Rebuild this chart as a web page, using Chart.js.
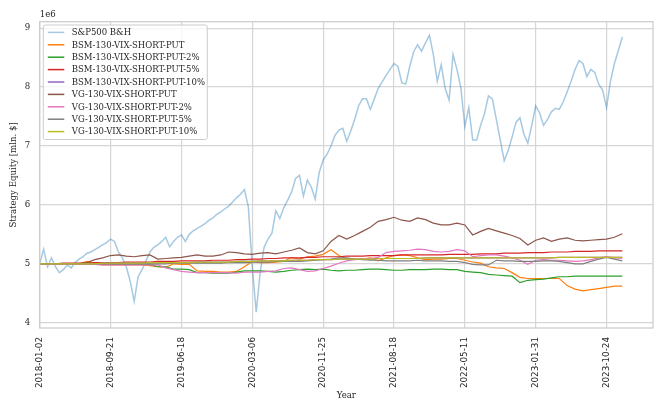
<!DOCTYPE html>
<html>
<head>
<meta charset="utf-8">
<script src="https://cdn.jsdelivr.net/npm/chart.js@4.4.1/dist/chart.umd.min.js"></script>
<style>
  html, body { margin: 0; padding: 0; background: #fff; }
  #wrap { width: 664px; height: 411px; }
</style>
</head>
<body>
<div id="wrap"><canvas id="c" width="664" height="411"></canvas></div>
<script>
// x tick labels, one per 180 trading days
const tickLabels = ['2018-01-02', '2018-09-21', '2019-06-18', '2020-03-06', '2020-11-25',
    '2021-08-18', '2022-05-11', '2023-01-31', '2023-10-24'];

// S&P500 buy & hold, every 10 trading days (mln $)
const spx = [5.00,5.25,4.95,5.10,4.95,4.85,4.90,4.98,4.93,5.02,
    5.08,5.12,5.18,5.20,5.24,5.28,5.32,5.36,5.42,5.38,
    5.20,5.10,4.95,4.70,4.36,4.78,4.90,5.05,5.20,5.28,
    5.32,5.38,5.45,5.29,5.38,5.45,5.49,5.38,5.50,5.56,
    5.60,5.64,5.68,5.74,5.78,5.84,5.88,5.93,5.98,6.05,
    6.12,6.18,6.26,5.97,4.95,4.18,4.85,5.28,5.42,5.52,
    5.90,5.77,5.95,6.08,6.22,6.45,6.50,6.15,6.42,6.30,
    6.10,6.55,6.76,6.86,7.00,7.18,7.27,7.30,7.08,7.25,
    7.45,7.68,7.80,7.80,7.62,7.80,7.98,8.09,8.20,8.30,
    8.40,8.35,8.07,8.05,8.35,8.60,8.72,8.61,8.75,8.88,
    8.55,8.10,8.38,7.98,7.78,8.55,8.30,7.98,7.33,7.65,
    7.10,7.10,7.35,7.55,7.85,7.80,7.45,7.10,6.75,6.92,
    7.15,7.40,7.48,7.20,7.05,7.35,7.68,7.56,7.35,7.45,
    7.58,7.64,7.62,7.75,7.92,8.10,8.30,8.45,8.40,8.18,
    8.30,8.25,8.05,7.95,7.65,8.10,8.40,8.62,8.85];

// strategies, every 20 trading days (mln $)
const bsmPut = [5.00,5.00,5.00,5.00,5.00,5.00,5.04,5.00,4.98,4.98,
    4.98,4.98,4.98,4.98,4.97,4.95,4.94,5.00,4.99,4.99,
    4.88,4.87,4.87,4.86,4.86,4.87,4.95,5.04,5.02,5.02,
    5.03,5.04,5.11,5.08,5.12,5.13,5.16,5.24,5.14,5.08,
    5.08,5.08,5.10,5.05,5.10,5.14,5.15,5.14,5.10,5.07,
    5.08,5.08,5.09,5.09,5.06,5.03,5.01,4.95,4.93,4.92,
    4.85,4.77,4.75,4.75,4.75,4.75,4.75,4.63,4.57,4.54,
    4.56,4.58,4.60,4.62,4.62];
const bsmPut2 = [5.00,5.00,5.00,5.00,5.00,5.00,5.00,5.00,5.00,5.00,
    4.99,4.99,4.99,4.99,4.99,4.95,4.95,4.91,4.91,4.90,
    4.85,4.85,4.84,4.84,4.84,4.86,4.88,4.88,4.88,4.87,
    4.86,4.87,4.89,4.90,4.91,4.90,4.91,4.89,4.88,4.89,
    4.89,4.90,4.91,4.91,4.90,4.89,4.89,4.90,4.90,4.90,
    4.91,4.91,4.90,4.90,4.87,4.86,4.85,4.82,4.81,4.80,
    4.79,4.68,4.72,4.73,4.74,4.76,4.78,4.78,4.79,4.79,
    4.79,4.79,4.79,4.79,4.79];
const bsmPut5 = [5.00,5.00,5.00,5.01,5.01,5.01,5.01,5.02,5.02,5.02,
    5.02,5.03,5.03,5.03,5.03,5.04,5.04,5.04,5.05,5.05,
    5.05,5.05,5.06,5.06,5.06,5.07,5.07,5.08,5.08,5.09,
    5.09,5.10,5.10,5.10,5.11,5.11,5.12,5.12,5.12,5.13,
    5.13,5.13,5.14,5.14,5.14,5.14,5.15,5.15,5.15,5.15,
    5.15,5.15,5.16,5.16,5.16,5.16,5.17,5.17,5.17,5.18,
    5.18,5.18,5.19,5.19,5.19,5.20,5.20,5.20,5.21,5.21,
    5.21,5.22,5.22,5.22,5.22];
const bsmPut10 = [5.00,5.00,5.00,5.00,5.00,5.00,5.00,5.00,5.01,5.01,
    5.01,5.01,5.01,5.01,5.02,5.02,5.02,5.02,5.02,5.02,
    5.03,5.03,5.03,5.03,5.03,5.04,5.04,5.04,5.05,5.05,
    5.05,5.05,5.06,5.06,5.06,5.07,5.07,5.07,5.08,5.08,
    5.08,5.08,5.08,5.09,5.09,5.09,5.09,5.09,5.09,5.10,
    5.10,5.10,5.10,5.10,5.10,5.10,5.10,5.10,5.10,5.10,
    5.10,5.10,5.10,5.10,5.10,5.10,5.11,5.11,5.11,5.11,
    5.11,5.11,5.11,5.11,5.11];
const vgPut = [5.00,5.00,5.00,5.00,5.00,5.00,5.02,5.07,5.10,5.14,
    5.15,5.13,5.12,5.14,5.15,5.08,5.09,5.10,5.11,5.13,
    5.15,5.13,5.13,5.15,5.20,5.19,5.17,5.16,5.18,5.19,
    5.17,5.20,5.23,5.27,5.19,5.17,5.22,5.38,5.48,5.42,
    5.48,5.55,5.62,5.72,5.75,5.79,5.74,5.72,5.78,5.75,
    5.69,5.66,5.66,5.69,5.66,5.49,5.55,5.60,5.56,5.52,
    5.48,5.43,5.32,5.40,5.44,5.38,5.42,5.44,5.40,5.39,
    5.40,5.41,5.42,5.45,5.51];
const vgPut2 = [5.00,4.99,4.99,4.99,4.99,4.99,4.99,4.99,4.98,4.98,
    4.98,4.98,4.98,4.98,4.98,4.98,4.93,4.90,4.87,4.86,
    4.85,4.85,4.85,4.85,4.85,4.84,4.86,4.86,4.86,4.87,
    4.88,4.92,4.93,4.90,4.87,4.88,4.92,4.96,5.01,5.05,
    5.07,5.08,5.09,5.11,5.19,5.21,5.22,5.23,5.25,5.24,
    5.21,5.20,5.21,5.24,5.22,5.12,5.14,5.15,5.15,5.13,
    5.10,5.06,4.99,5.06,5.07,5.06,5.06,5.05,5.04,5.05,
    5.07,5.10,5.12,5.10,5.09];
const vgPut5 = [5.00,5.00,5.00,5.00,5.00,5.00,5.00,5.00,5.00,5.00,
    5.00,5.00,5.00,5.00,5.00,5.00,5.00,5.01,5.01,5.01,
    5.01,5.01,5.01,5.01,5.02,5.02,5.02,5.03,5.03,5.03,
    5.04,5.04,5.04,5.04,5.05,5.06,5.07,5.08,5.10,5.10,
    5.08,5.07,5.06,5.06,5.05,5.05,5.05,5.05,5.06,5.05,
    5.05,5.05,5.04,5.04,5.02,4.99,4.98,4.98,5.06,5.05,
    5.05,5.04,5.04,5.04,5.05,5.05,5.04,5.02,5.00,5.00,
    5.04,5.08,5.11,5.08,5.05];
const vgPut10 = [5.00,5.00,5.00,5.00,5.00,5.00,5.00,5.00,5.01,5.01,
    5.01,5.01,5.01,5.01,5.02,5.02,5.02,5.02,5.02,5.02,
    5.03,5.03,5.03,5.03,5.03,5.04,5.04,5.04,5.05,5.05,
    5.05,5.05,5.06,5.06,5.06,5.07,5.07,5.07,5.08,5.08,
    5.08,5.08,5.08,5.09,5.09,5.09,5.09,5.09,5.09,5.10,
    5.10,5.10,5.10,5.10,5.10,5.10,5.10,5.10,5.10,5.10,
    5.10,5.10,5.10,5.10,5.10,5.10,5.11,5.11,5.11,5.11,
    5.11,5.11,5.11,5.11,5.11];

const SERIF = "'DejaVu Serif', serif";
const SANS = "'DejaVu Sans', sans-serif";
const TXT = '#262626';

const pts = (vals, step) => vals.map((v, i) => ({ x: i * step, y: v }));

const series = [
    ['S&P500 B&H', spx, 10, 'rgba(31,119,180,0.4)', 1.5],
    ['BSM-130-VIX-SHORT-PUT', bsmPut, 20, '#ff7f0e', 1.2],
    ['BSM-130-VIX-SHORT-PUT-2%', bsmPut2, 20, '#2ca02c', 1.2],
    ['BSM-130-VIX-SHORT-PUT-5%', bsmPut5, 20, '#d62728', 1.2],
    ['BSM-130-VIX-SHORT-PUT-10%', bsmPut10, 20, '#9467bd', 1.2],
    ['VG-130-VIX-SHORT-PUT', vgPut, 20, '#8c564b', 1.2],
    ['VG-130-VIX-SHORT-PUT-2%', vgPut2, 20, '#e377c2', 1.2],
    ['VG-130-VIX-SHORT-PUT-5%', vgPut5, 20, '#7f7f7f', 1.2],
    ['VG-130-VIX-SHORT-PUT-10%', vgPut10, 20, '#bcbd22', 1.2],
];

const datasets = series.map(([label, vals, step, color, w], i) => ({
    label,
    data: pts(vals, step),
    borderColor: color,
    backgroundColor: color,
    borderWidth: w,
    pointRadius: 0,
    tension: 0,
    order: series.length - i,
}));

// frame + offset text + legend inside the axes
const extras = {
    id: 'extras',
    afterDraw(chart) {
        const { ctx, chartArea: a } = chart;
        ctx.save();
        ctx.strokeStyle = '#cccccc';
        ctx.lineWidth = 1.25;
        ctx.strokeRect(a.left, a.top, a.right - a.left, a.bottom - a.top);

        ctx.fillStyle = TXT;
        ctx.font = '8.6px ' + SERIF;
        ctx.textBaseline = 'alphabetic';
        ctx.fillText('1e6', a.left, a.top - 4.3);

        const lx = a.left + 3.6, ly = a.top + 3.3, lw = 164, lh = 114.5;
        ctx.fillStyle = 'rgba(255,255,255,0.8)';
        ctx.strokeStyle = '#cccccc';
        ctx.lineWidth = 1;
        ctx.beginPath();
        ctx.roundRect(lx, ly, lw, lh, 2);
        ctx.fill();
        ctx.stroke();
        ctx.font = '8.5px ' + SERIF;
        ctx.textBaseline = 'middle';
        chart.data.datasets.forEach((d, i) => {
            const y = ly + 7.4 + i * 12.4;
            ctx.strokeStyle = d.borderColor;
            ctx.lineWidth = 1.5;
            ctx.beginPath();
            ctx.moveTo(lx + 4.5, y);
            ctx.lineTo(lx + 21, y);
            ctx.stroke();
            ctx.fillStyle = TXT;
            ctx.fillText(d.label, lx + 28.5, y + 0.5);
        });
        ctx.restore();
    }
};

new Chart(document.getElementById('c'), {
    type: 'line',
    data: { datasets },
    plugins: [extras],
    options: {
        responsive: false,
        animation: false,
        devicePixelRatio: 1,
        layout: { padding: { top: 21.7, right: 11, left: 0, bottom: 0 } },
        plugins: { legend: { display: false }, tooltip: { enabled: false } },
        scales: {
            x: {
                type: 'linear',
                min: 0,
                max: 1558,
                afterBuildTicks: s => { s.ticks = tickLabels.map((_, i) => ({ value: i * 180 })); },
                afterFit: s => { s.height = 83; },
                grid: { color: '#d6d6d6', lineWidth: 1.2, drawTicks: false },
                border: { display: false },
                ticks: {
                    autoSkip: false,
                    minRotation: 90,
                    maxRotation: 90,
                    padding: 9,
                    color: TXT,
                    font: { family: SANS, size: 8.8 },
                    callback: v => tickLabels[Math.round(v / 180)] || ''
                },
                title: {
                    display: true,
                    text: 'Year',
                    color: TXT,
                    font: { family: SERIF, size: 8.6 },
                    padding: { top: 0, bottom: 10 }
                }
            },
            y: {
                min: 3.91,
                max: 9.11,
                afterBuildTicks: s => { s.ticks = [4, 5, 6, 7, 8, 9].map(v => ({ value: v })); },
                afterFit: s => { s.width = 39.7; },
                grid: { color: '#d6d6d6', lineWidth: 1.2, drawTicks: false },
                border: { display: false },
                ticks: {
                    padding: 9.5,
                    color: TXT,
                    font: { family: SERIF, size: 8.6 },
                    callback: v => String(v)
                },
                title: {
                    display: true,
                    text: 'Strategy Equity [mln. $]',
                    color: TXT,
                    font: { family: SERIF, size: 8.6 },
                    padding: { top: 8.8, bottom: 0 }
                }
            }
        }
    }
});
</script>
</body>
</html>
